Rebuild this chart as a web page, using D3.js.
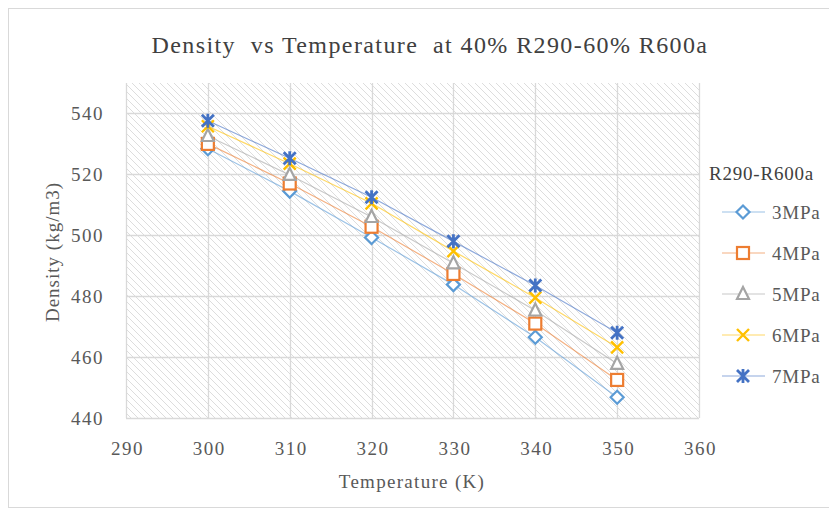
<!DOCTYPE html>
<html>
<head>
<meta charset="utf-8">
<script src="https://cdn.jsdelivr.net/npm/d3@7"></script>
<style>
  body { margin: 0; background: #fff; }
</style>
</head>
<body>
<div id="chart"></div>
<script>
// --- data -------------------------------------------------------------
const temperatures = [300, 310, 320, 330, 340, 350];
const seriesNames = ['3MPa', '4MPa', '5MPa', '6MPa', '7MPa'];
const density3 = [528.4, 514.5, 499.3, 483.8, 466.5, 446.8];
const density4 = [530.0, 517.0, 502.8, 487.3, 471.0, 452.5];
const density5 = [532.6, 519.8, 506.0, 490.8, 475.3, 457.8];
const density6 = [535.8, 523.5, 510.5, 494.8, 479.5, 463.2];
const density7 = [537.6, 525.3, 512.5, 498.0, 483.5, 468.0];
const xTicks = [290, 300, 310, 320, 330, 340, 350, 360];
const yTicks = [440, 460, 480, 500, 520, 540];

const allSeries = [density3, density4, density5, density6, density7];
const colors = ['#5B9BD5', '#ED7D31', '#A5A5A5', '#FFC000', '#4472C4'];
const markers = ['diamond', 'square', 'triangle', 'x', 'star'];

const FONT = '"Liberation Serif", "Times New Roman", serif';
const width = 829, height = 515;
const plot = {left: 126, right: 699, top: 83, bottom: 418};

const svg = d3.select('#chart').append('svg')
    .attr('width', width)
    .attr('height', height)
    .style('font-family', FONT);

// chart area border (right edge falls outside the picture)
svg.append('rect')
    .attr('x', 8.5).attr('y', 8.5)
    .attr('width', 830).attr('height', 499)
    .attr('fill', '#fff')
    .attr('stroke', '#d9d9d9');

// hatch pattern for the plot area
const pat = svg.append('defs').append('pattern')
    .attr('id', 'hatch')
    .attr('patternUnits', 'userSpaceOnUse')
    .attr('width', 7).attr('height', 7);
pat.append('path')
    .attr('d', 'M-1,-1 L8,8 M-4.5,2.5 L1.5,8.5 M5.5,-1.5 L8.5,1.5')
    .attr('stroke', '#d4d4d4')
    .attr('stroke-width', 0.8);

const x = d3.scaleLinear().domain([290, 360]).range([plot.left, plot.right]);
const y = d3.scaleLinear().domain([440, 550]).range([plot.bottom, plot.top]);

svg.append('rect')
    .attr('x', plot.left).attr('y', plot.top)
    .attr('width', plot.right - plot.left)
    .attr('height', plot.bottom - plot.top)
    .attr('fill', 'url(#hatch)');

// gridlines
svg.append('g').selectAll('line')
    .data(yTicks)
    .join('line')
        .attr('x1', plot.left).attr('x2', plot.right)
        .attr('y1', d => Math.round(y(d)) + 0.5).attr('y2', d => Math.round(y(d)) + 0.5)
        .attr('stroke', '#d9d9d9').attr('stroke-width', 1.3);

svg.append('g').selectAll('line')
    .data(xTicks)
    .join('line')
        .attr('x1', d => Math.round(x(d)) + 0.5).attr('x2', d => Math.round(x(d)) + 0.5)
        .attr('y1', plot.top).attr('y2', plot.bottom)
        .attr('stroke', '#d9d9d9').attr('stroke-width', 1.3);

// axes (labels only, Excel style)
const xAxis = svg.append('g')
    .attr('transform', `translate(0,${plot.bottom + 37})`)
    .call(d3.axisBottom(x).tickValues(xTicks).tickSize(0).tickPadding(0).tickFormat(d3.format('d')));
const yAxis = svg.append('g')
    .attr('transform', `translate(${plot.left - 22},0)`)
    .call(d3.axisLeft(y).tickValues(yTicks).tickSize(0).tickPadding(0).tickFormat(d3.format('d')));
[xAxis, yAxis].forEach(a => {
    a.attr('font-family', FONT).attr('font-size', 19);
    a.select('.domain').remove();
    a.selectAll('text')
        .style('letter-spacing', '1.5px')
        .attr('fill', '#595959');
});
xAxis.selectAll('text').attr('dy', 0).attr('dx', 1);
yAxis.selectAll('text').attr('dy', '0.34em');

// titles
svg.append('text')
    .attr('x', 430).attr('y', 53)
    .attr('text-anchor', 'middle')
    .style('font-size', '24px')
    .style('letter-spacing', '1.4px')
    .style('white-space', 'pre')
    .attr('fill', '#404040')
    .text('Density  vs Temperature  at 40% R290-60% R600a');

svg.append('text')
    .attr('x', 412).attr('y', 488)
    .attr('text-anchor', 'middle')
    .style('font-size', '19px')
    .style('letter-spacing', '1.3px')
    .attr('fill', '#595959')
    .text('Temperature (K)');

svg.append('text')
    .attr('transform', 'translate(59,252) rotate(-90)')
    .attr('text-anchor', 'middle')
    .style('font-size', '19px')
    .style('letter-spacing', '1px')
    .attr('fill', '#595959')
    .text('Density (kg/m3)');

// marker drawing
function drawMarker(sel, type, color) {
    if (type === 'diamond') {
        sel.append('path').attr('d', 'M0,-6.5 L6.5,0 L0,6.5 L-6.5,0 Z')
            .attr('fill', '#fff').attr('stroke', color).attr('stroke-width', 2.2);
    } else if (type === 'square') {
        sel.append('rect').attr('x', -6).attr('y', -6).attr('width', 12).attr('height', 12)
            .attr('fill', '#fff').attr('stroke', color).attr('stroke-width', 2.2);
    } else if (type === 'triangle') {
        sel.append('path').attr('d', 'M0,-7 L6,5 L-6,5 Z')
            .attr('fill', '#fff').attr('stroke', color).attr('stroke-width', 2.2);
    } else if (type === 'x') {
        sel.append('path').attr('d', 'M-6,-6 L6,6 M6,-6 L-6,6')
            .attr('stroke', color).attr('stroke-width', 2.4);
    } else {
        sel.append('path').attr('d', 'M-6,-6 L6,6 M6,-6 L-6,6 M0,-7 L0,7')
            .attr('stroke', color).attr('stroke-width', 2.8);
    }
}

const line = d3.line()
    .x((d, i) => x(temperatures[i]))
    .y(d => y(d));

// lines first, then markers
allSeries.forEach((s, k) => {
    svg.append('path')
        .datum(s)
        .attr('d', line)
        .attr('fill', 'none')
        .attr('stroke', colors[k])
        .attr('stroke-opacity', 0.6)
        .attr('stroke-width', 1.2);
});

allSeries.forEach((s, k) => {
    svg.append('g').selectAll('g')
        .data(s)
        .join('g')
            .attr('transform', (d, i) => `translate(${x(temperatures[i])},${y(d)})`)
            .each(function() { drawMarker(d3.select(this), markers[k], colors[k]); });
});

// legend
const legend = svg.append('g');
legend.append('text')
    .attr('x', 709).attr('y', 180)
    .style('font-size', '19px')
    .style('letter-spacing', '0.8px')
    .attr('fill', '#404040')
    .text('R290-R600a');

seriesNames.forEach((name, k) => {
    const ly = 212 + k * 41;
    const item = legend.append('g');
    item.append('line')
        .attr('x1', 722).attr('x2', 765)
        .attr('y1', ly).attr('y2', ly)
        .attr('stroke', colors[k]).attr('stroke-opacity', 0.6).attr('stroke-width', 1.2);
    drawMarker(item.append('g').attr('transform', `translate(743,${ly})`), markers[k], colors[k]);
    item.append('text')
        .attr('x', 772).attr('y', ly + 7)
        .style('font-size', '19px')
        .style('letter-spacing', '0.8px')
        .attr('fill', '#595959')
        .text(name);
});
</script>
</body>
</html>
